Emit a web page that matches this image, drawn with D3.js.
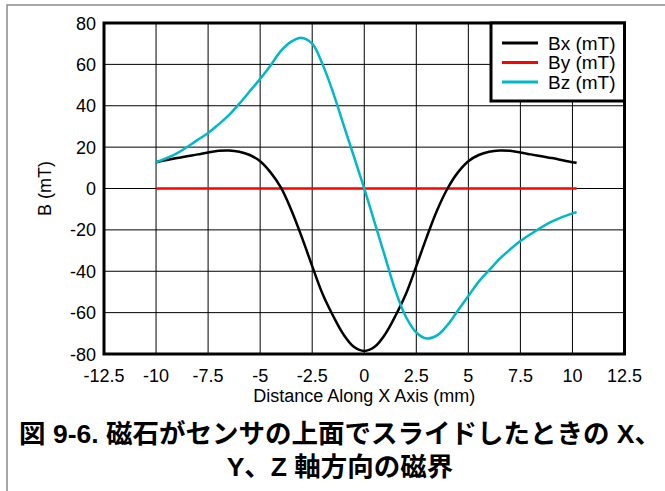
<!DOCTYPE html>
<html>
<head>
<meta charset="utf-8">
<script src="https://cdn.jsdelivr.net/npm/d3@7"></script>
<style>
  body { margin: 0; background: #fff; }
  svg { display: block; font-family: "Liberation Sans", Arial, sans-serif; }
  .tick-label { font-size: 18px; fill: #000; }
  .legend-label { font-size: 19px; fill: #000; }
  .caption { font-family: "Liberation Sans", "Noto Sans CJK JP", sans-serif; font-weight: bold; font-size: 26.5px; }
</style>
</head>
<body>
<div id="chart"></div>
<script>
"use strict";

// data
var xPos = [-10, -9, -8, -7.5, -7, -6.5, -6, -5.5, -5, -4.5, -4, -3.5, -3, -2.5, -2, -1.5, -1, -0.5,
  0, 0.5, 1, 1.5, 2, 2.5, 3, 3.5, 4, 4.5, 5, 5.5, 6, 6.5, 7, 7.5, 8, 9, 10, 10.2];
var bx = [12.7, 14.7, 16.5, 17.4, 18.2, 18.4, 17.8, 16.2, 13.2, 7.8, 0.4, -10.5, -23.5, -37.5, -51, -61.5, -70.5, -76.5,
  -78.5, -76.5, -70.5, -61.5, -51, -37.5, -23.5, -10.5, 0, 7.8, 13.2, 16.2, 17.8, 18.4, 18.2, 17.4, 16.5, 14.7, 12.7, 12.4];
var by = xPos.map(function() { return 0; });
var bz = [12.7, 17, 23.5, 26.8, 31, 35.5, 41, 47, 53, 59.5, 66.5, 71, 72.8, 70, 60, 46.5, 31, 15.5,
  0, -16.5, -33, -49.5, -62, -69.6, -72.5, -71, -66, -59, -52, -45, -39.5, -34, -29.5, -25.4, -22, -16, -12, -11.5];

var seriesNames = ["Bx (mT)", "By (mT)", "Bz (mT)"];
var seriesColors = ["#000000", "#ff0000", "#00b8c8"];
var xTicks = [-12.5, -10, -7.5, -5, -2.5, 0, 2.5, 5, 7.5, 10, 12.5];
var yTicks = [-80, -60, -40, -20, 0, 20, 40, 60, 80];

(function() {
  var width = 665, height = 491;
  var pLeft = 104, pRight = 624.5, pTop = 23, pBottom = 354;

  var svg = d3.select("#chart")
    .append("svg")
    .attr("width", width)
    .attr("height", height);

  // outer frame (top + left only visible)
  svg.append("path")
    .attr("d", "M7,600 L7,5 L700,5")
    .attr("fill", "none")
    .attr("stroke", "#8a8a8a")
    .attr("stroke-width", 1.5);

  var x = d3.scaleLinear().domain([-12.5, 12.5]).range([pLeft, pRight]);
  var y = d3.scaleLinear().domain([-80, 80]).range([pBottom, pTop]);

  // grid
  svg.append("g").selectAll("line")
    .data(xTicks.slice(1, -1))
    .enter().append("line")
    .attr("x1", function(d) { return x(d); })
    .attr("x2", function(d) { return x(d); })
    .attr("y1", pTop).attr("y2", pBottom)
    .attr("stroke", "#000").attr("stroke-width", 1);

  svg.append("g").selectAll("line")
    .data(yTicks.slice(1, -1))
    .enter().append("line")
    .attr("y1", function(d) { return y(d); })
    .attr("y2", function(d) { return y(d); })
    .attr("x1", pLeft).attr("x2", pRight)
    .attr("stroke", "#000").attr("stroke-width", 1);

  // tick labels
  svg.append("g").selectAll("text")
    .data(yTicks)
    .enter().append("text")
    .attr("class", "tick-label")
    .attr("x", 96)
    .attr("y", function(d) { return y(d) + 6.5; })
    .attr("text-anchor", "end")
    .text(function(d) { return d; });

  svg.append("g").selectAll("text")
    .data(xTicks)
    .enter().append("text")
    .attr("class", "tick-label")
    .attr("x", function(d) { return x(d); })
    .attr("y", 382)
    .attr("text-anchor", "middle")
    .text(function(d) { return d; });

  // axis titles
  svg.append("text")
    .attr("class", "tick-label")
    .attr("x", x(0))
    .attr("y", 402)
    .attr("text-anchor", "middle")
    .text("Distance Along X Axis (mm)");

  svg.append("text")
    .attr("class", "tick-label")
    .attr("transform", "translate(51," + y(0) + ") rotate(-90)")
    .attr("text-anchor", "middle")
    .text("B (mT)");

  // lines
  var line = d3.line()
    .x(function(d) { return x(d[0]); })
    .y(function(d) { return y(d[1]); })
    .curve(d3.curveCatmullRom.alpha(0.5));

  var drawOrder = [1, 0, 2];
  var allSeries = [bx, by, bz];
  drawOrder.forEach(function(i) {
    svg.append("path")
      .datum(xPos.map(function(v, j) { return [v, allSeries[i][j]]; }))
      .attr("d", line)
      .attr("fill", "none")
      .attr("stroke", seriesColors[i])
      .attr("stroke-width", 2.5);
  });

  // plot border
  svg.append("rect")
    .attr("x", pLeft).attr("y", pTop)
    .attr("width", pRight - pLeft).attr("height", pBottom - pTop)
    .attr("fill", "none")
    .attr("stroke", "#000")
    .attr("stroke-width", 3);

  // legend
  var legend = svg.append("g");
  legend.append("rect")
    .attr("x", 491).attr("y", pTop)
    .attr("width", pRight - 491).attr("height", 78)
    .attr("fill", "#fff")
    .attr("stroke", "#000")
    .attr("stroke-width", 3);

  var legendItem = legend.selectAll("g.item")
    .data(seriesNames)
    .enter().append("g")
    .attr("class", "item")
    .attr("transform", function(d, i) { return "translate(0," + (43 + i * 19.5) + ")"; });

  legendItem.append("line")
    .attr("x1", 502).attr("x2", 538)
    .attr("y1", 0).attr("y2", 0)
    .attr("stroke", function(d, i) { return seriesColors[i]; })
    .attr("stroke-width", 3);

  legendItem.append("text")
    .attr("class", "legend-label")
    .attr("x", 548)
    .attr("y", 6.5)
    .text(function(d) { return d; });

  // caption
  svg.append("text")
    .attr("class", "caption")
    .attr("x", 340)
    .attr("y", 443)
    .attr("text-anchor", "middle")
    .text("図 9-6. 磁石がセンサの上面でスライドしたときの X、");

  svg.append("text")
    .attr("class", "caption")
    .attr("x", 340)
    .attr("y", 476)
    .attr("text-anchor", "middle")
    .text("Y、Z 軸方向の磁界");
})();
</script>
</body>
</html>
